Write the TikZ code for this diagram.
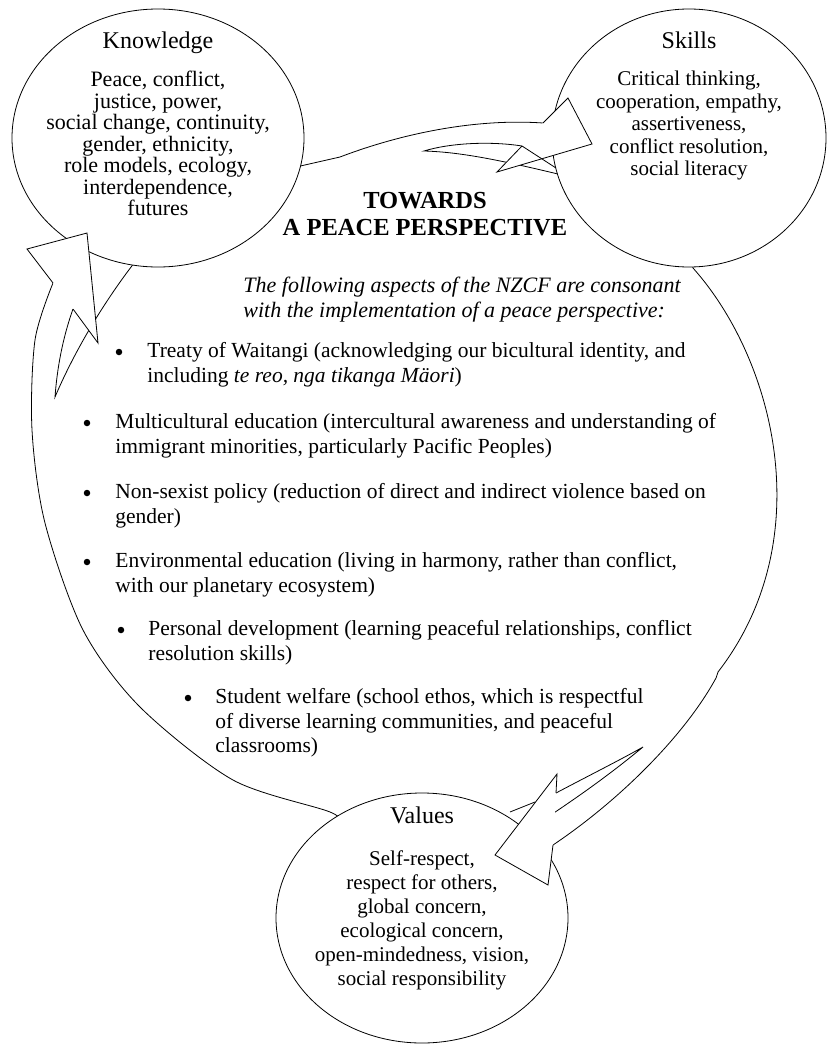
\documentclass[tikz,border=0pt]{standalone}
\usepackage{fontspec}
\setmainfont{Liberation Serif}
\usetikzlibrary{shapes.geometric}

\begin{document}
\begin{tikzpicture}[x=1pt,y=-1pt,line width=0.8pt,
  bubble/.style={draw,fill=white,ellipse,inner sep=0pt},
  title/.style={font=\fontsize{24}{28}\selectfont,inner sep=0pt,anchor=base},
  body/.style={font=\fontsize{21}{22.5}\selectfont,align=center,inner sep=0pt,anchor=north},
  item/.style={font=\fontsize{21.5}{24.5}\selectfont,align=left,inner sep=0pt,anchor=north west},
  dot/.style={circle,fill,inner sep=0pt,minimum size=6.5pt}]
\useasboundingbox (0,0) rectangle (828,1044);

\draw (296,167) -- (340,157) .. controls (395,136) and (470,118) .. (543,123);
\draw (522,146) .. controls (490,141) and (450,143) .. (424,151) .. controls (460,152) and (500,160) .. (562,175);
\draw plot[smooth] coordinates {(345,826) (330,812) (233,780) (140,707) (83,630) (45,523) (32,430) (35,340) (53,283)};
\draw (73,309) .. controls (62,340) and (57,370) .. (55,397) .. controls (75,350) and (105,300) .. (138,258);
\draw (690,255) -- (693,268) .. controls (775,360) and (820,540) .. (718,672);
\draw (718,672) -- (716,678) .. controls (685,735) and (620,800) .. (553,845);
\draw (556,793) .. controls (590,775) and (620,760) .. (643,747) .. controls (615,770) and (585,793) .. (525,832);

\node[bubble,minimum width=292pt,minimum height=258pt] (K) at (158,138) {};
\node[bubble,minimum width=274pt,minimum height=258pt] (S) at (689,138) {};
\node[bubble,minimum width=292pt,minimum height=250pt] (V) at (422,918) {};

\fill[white] (543,123) -- (568,98) -- (592,144) -- (497,172) -- (522,146) -- cycle;
\draw (543,123) -- (568,98) -- (592,144) -- (497,172) -- (522,146);
\draw (522,146) -- (556,168);
\fill[white] (53,283) -- (27,249) -- (87,233) -- (98,343) -- (73,309) -- cycle;
\draw (53,283) -- (27,249) -- (87,233) -- (98,343) -- (73,309);
\fill[white] (553,845) -- (548,885) -- (495,855) -- (557,774) -- (556,793) -- cycle;
\draw (553,845) -- (548,885) -- (495,855) -- (557,774) -- (556,793);
\draw (510,812) -- (535,802);

\node[title] (KT) at (158,48) {Knowledge};
\node[body,font=\fontsize{22}{21.5}\selectfont] (KB) at (158,71) {Peace, conflict,\\justice, power,\\social change, continuity,\\gender, ethnicity,\\role models, ecology,\\interdependence,\\futures};
\node[title] (ST) at (689,48) {Skills};
\node[body] (SB) at (689,71) {Critical thinking,\\cooperation, empathy,\\assertiveness,\\conflict resolution,\\social literacy};
\node[title] (VT) at (422,823) {Values};
\node[body,font=\fontsize{21}{24}\selectfont] (VB) at (422,850) {Self-respect,\\respect for others,\\global concern,\\ecological concern,\\open-mindedness, vision,\\social responsibility};

\node[font=\bfseries\fontsize{24.5}{27}\selectfont,align=center,inner sep=0pt,anchor=north] (P) at (425,192) {TOWARDS\\A PEACE PERSPECTIVE};
\node[item,font=\itshape\fontsize{22}{25}\selectfont] (I) at (243,277) {The following aspects of the NZCF are consonant\\with the implementation of a peace perspective:};

\node[dot] (d1) at (119,352) {};
\node[item] (t1) at (147,342) {Treaty of Waitangi (acknowledging our bicultural identity, and\\including \textit{te reo, nga tikanga Mäori})};
\node[dot] (d2) at (87,423) {};
\node[item] (t2) at (115,413) {Multicultural education (intercultural awareness and understanding of\\immigrant minorities, particularly Pacific Peoples)};
\node[dot] (d3) at (87,493) {};
\node[item] (t3) at (115,483) {Non-sexist policy (reduction of direct and indirect violence based on\\gender)};
\node[dot] (d4) at (87,562) {};
\node[item] (t4) at (115,552) {Environmental education (living in harmony, rather than conflict,\\with our planetary ecosystem)};
\node[dot] (d5) at (121,630) {};
\node[item] (t5) at (148,620) {Personal development (learning peaceful relationships, conflict\\resolution skills)};
\node[dot] (d6) at (188,698) {};
\node[item] (t6) at (215,688) {Student welfare (school ethos, which is respectful\\of diverse learning communities, and peaceful\\classrooms)};
\end{tikzpicture}
\end{document}
